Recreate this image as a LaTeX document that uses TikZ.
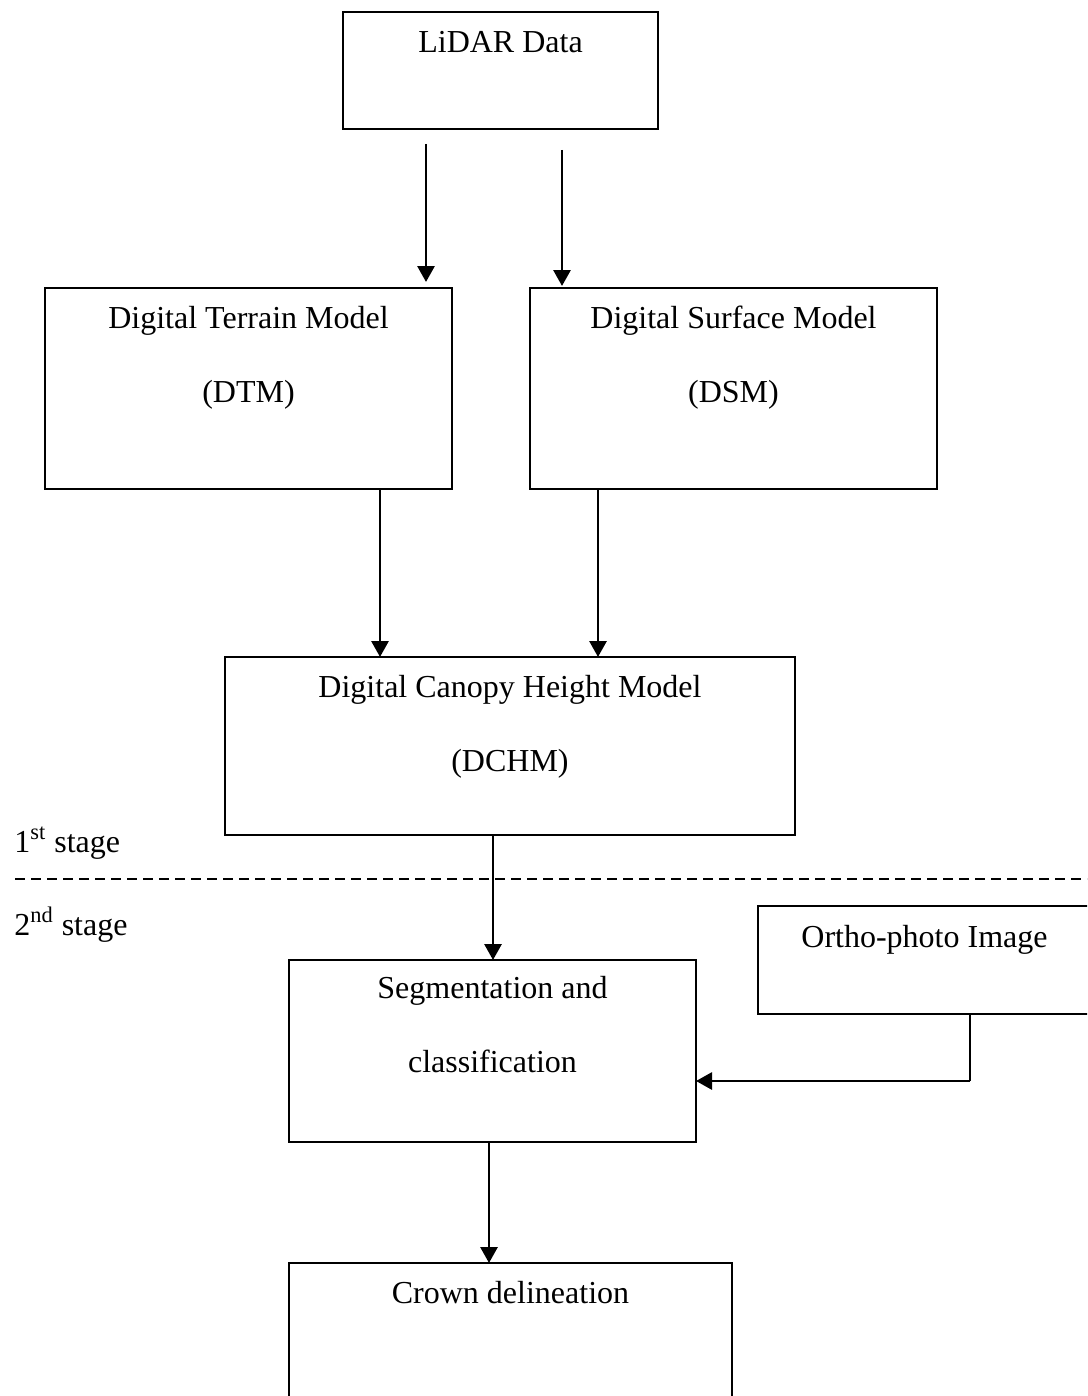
\documentclass[tikz,border=0pt]{standalone}
\usepackage{fontspec}
\setmainfont{Liberation Serif}
\usetikzlibrary{arrows.meta}
\begin{document}
\begin{tikzpicture}[x=0.5pt,y=-0.5pt,
  box/.style={draw, line width=0.7pt, inner sep=0pt, outer sep=0pt, anchor=north west},
  wh/.style 2 args={minimum width=#1*0.5pt, minimum height=#2*0.5pt},
  txt/.style={font=\fontsize{16}{19}\selectfont, anchor=base, inner sep=0pt},
  stagetxt/.style={font=\fontsize{16}{19}\selectfont, anchor=base west, inner sep=0pt},
  arr/.style={line width=1.45pt, -{Triangle[length=8pt,width=8.5pt]}},
  link/.style={line width=0.9pt},
  divider/.style={line width=0.9pt, dash pattern=on 5pt off 3pt}]
\clip (0,0) rectangle (1087,1396);
\useasboundingbox (0,0) rectangle (1087,1396);

% boxes
\node[box, wh={315}{117}] (lidar) at (343,12) {};
\node[box, wh={407}{201}] (dtm)   at (45,288) {};
\node[box, wh={407}{201}] (dsm)   at (530,288) {};
\node[box, wh={570}{178}] (dchm)  at (225,657) {};
\node[box, wh={407}{182}] (seg)   at (289,960) {};
\node[box, wh={340}{108}] (ortho) at (758,906) {};
\node[box, wh={443}{150}] (crown) at (289,1263) {};

% box texts
\node[txt] (tlidar) at (500.5,53) {LiDAR Data};
\node[txt] (tdtm1) at (248.5,328) {Digital Terrain Model};
\node[txt] (tdtm2) at (248.5,402) {(DTM)};
\node[txt] (tdsm1) at (733.5,328) {Digital Surface Model};
\node[txt] (tdsm2) at (733.5,402) {(DSM)};
\node[txt] (tdchm1) at (510,697) {Digital Canopy Height Model};
\node[txt] (tdchm2) at (510,771) {(DCHM)};
\node[txt] (tseg1) at (492.5,998) {Segmentation and};
\node[txt] (tseg2) at (492.5,1072) {classification};
\node[txt] (tortho) at (924.5,947) {Ortho-photo Image};
\node[txt] (tcrown) at (510.5,1303) {Crown delineation};

% stage labels and divider
\node[stagetxt] (st1) at (14,852) {1\textsuperscript{st} stage};
\node[stagetxt] (st2) at (14,935) {2\textsuperscript{nd} stage};
\coordinate (dl) at (15,879);
\coordinate (dr) at (1090,879);
\draw[divider] (dl) -- (dr);

% connectors
\coordinate (a1) at (426,144);
\coordinate (e1) at (426,282);
\coordinate (a2) at (562,150);
\coordinate (e2) at (562,286);
\draw[arr] (a1) -- (e1);
\draw[arr] (a2) -- (e2);

\coordinate (c3) at (380,0);
\coordinate (c4) at (598,0);
\draw[arr] (dtm.south -| c3) -- (dchm.north -| c3);
\draw[arr] (dsm.south -| c4) -- (dchm.north -| c4);

\coordinate (c5) at (493,0);
\draw[arr] (dchm.south -| c5) -- (seg.north -| c5);

\coordinate (ob) at (970,1081);
\draw[link] (ortho.south -| ob) -- (ob);
\draw[arr] (ob) -- (seg.east |- ob);

\coordinate (c6) at (489,0);
\draw[arr] (seg.south -| c6) -- (crown.north -| c6);
\end{tikzpicture}
\end{document}
